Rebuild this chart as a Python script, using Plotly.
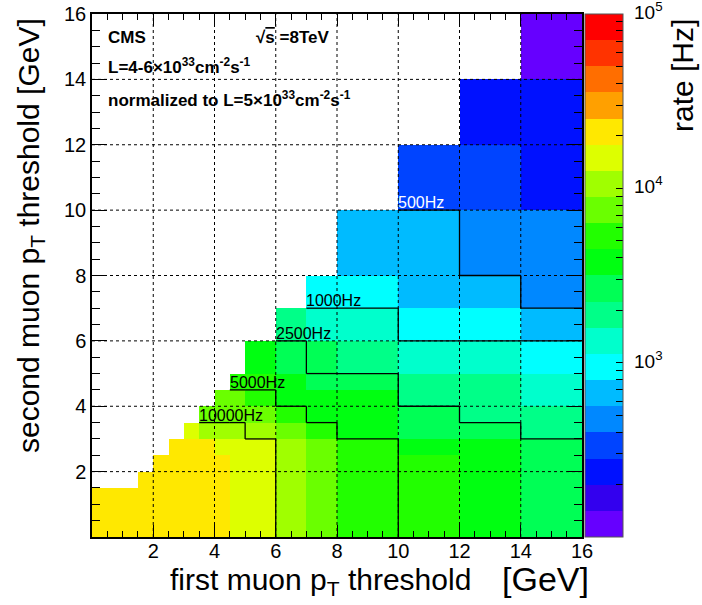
import numpy as np
import plotly.graph_objects as go

# muon pT threshold bin edges [GeV] (same scale on both axes)
pt_edges = [0, 1.5, 2, 2.5, 3, 3.5, 4, 4.5, 5, 6, 7, 8, 10, 12, 14, 16]

# di-muon rate [Hz]; row j = second muon bin, values start at first muon bin i = j
rate_row_0 = [24500, 24000, 23500, 23000, 22000, 21000, 19500, 17000, 15500, 9700, 8000, 5900, 4900, 3900, 2900]
rate_row_1 = [23500, 23000, 22500, 21500, 20500, 19000, 16800, 15000, 9600, 7900, 5800, 4850, 3850, 2850]
rate_row_2 = [22500, 22000, 21000, 20000, 18500, 16500, 14500, 9500, 7800, 5700, 4800, 3800, 2800]
rate_row_3 = [21500, 20000, 19000, 17000, 16000, 13500, 9000, 7200, 5400, 4300, 3500, 2700]
rate_row_4 = [16000, 11500, 11000, 10500, 9400, 7600, 5600, 4000, 2800, 2650, 2000]
rate_row_5 = [8500, 8000, 7800, 7000, 5600, 4300, 3700, 2700, 2100, 1800]
rate_row_6 = [7000, 6800, 5800, 4200, 3600, 3300, 2100, 1800, 1500]
rate_row_7 = [4800, 4700, 3700, 3100, 2700, 1900, 1600, 1300]
rate_row_8 = [3800, 2800, 2400, 2000, 1400, 1250, 1050]
rate_row_9 = [1900, 1400, 1250, 950, 900, 700]
rate_row_10 = [950, 880, 700, 620, 460]
rate_row_11 = [680, 620, 470, 440]
rate_row_12 = [340, 300, 250]
rate_row_13 = [240, 220]
rate_row_14 = [120]
rate_rows = [rate_row_0, rate_row_1, rate_row_2, rate_row_3, rate_row_4, rate_row_5, rate_row_6,
             rate_row_7, rate_row_8, rate_row_9, rate_row_10, rate_row_11, rate_row_12,
             rate_row_13, rate_row_14]

contour_levels = [10000, 5000, 2500, 1000, 500]
contour_labels = ["10000Hz", "5000Hz", "2500Hz", "1000Hz", "500Hz"]
contour_label_colors = ["black", "black", "black", "black", "white"]

# ROOT-like rainbow palette, 20 levels, bottom (1e2 Hz) to top (1e5 Hz)
palette = ["#6600FF", "#3300EE", "#0011FF", "#0044FF", "#0088FF", "#00BBFF", "#00FFFF",
           "#00FFCC", "#00FF88", "#00FF55", "#00FF11", "#22FF00", "#6AFF00", "#A0FF00",
           "#DDFF00", "#FFE800", "#FFA000", "#FF6E00", "#FF3300", "#FF0000"]
cb_decades = [3, 4, 5]

n = len(pt_edges) - 1
rate = [[None] * n for _ in range(n)]
for j, row in enumerate(rate_rows):
    for k, v in enumerate(row):
        rate[j][j + k] = v
z = [[None if v is None else float(np.log10(v)) for v in row] for row in rate]

zmin, zmax = 2, 5
colorscale = []
for k, c in enumerate(palette):
    colorscale.append([k / len(palette), c])
    colorscale.append([(k + 1) / len(palette), c])

# colorbar tick marks (log scale); labels are drawn as annotations
cb_vals = [d + np.log10(m) for d in range(zmin, zmax) for m in range(1, 10)][1:] + [zmax]

FONT = "Liberation Sans, Arial, Helvetica, sans-serif"
L, R, T, B = 92, 582, 14, 537


def px_x(p):
    return (p - L) / (R - L)


def px_y(p):
    return (B - p) / (B - T)


fig = go.Figure()
fig.add_trace(go.Heatmap(
    x=pt_edges, y=pt_edges, z=z, zmin=zmin, zmax=zmax, colorscale=colorscale,
    hoverongaps=False,
    colorbar=dict(
        x=px_x(585), xanchor="left", y=0, yanchor="bottom", len=1, lenmode="fraction",
        thickness=38, xpad=0, ypad=0, outlinewidth=1, outlinecolor="#555555",
        tickmode="array", tickvals=cb_vals, showticklabels=False,
        ticks="inside", ticklen=7, tickcolor="black", tickwidth=1,
    ),
))

# contour lines at cell boundaries
cx, cy = [], []
label_pos = []
for lev in contour_levels:
    for j in range(n):
        for i in range(n):
            v = rate[j][i]
            if v is None:
                continue
            if i + 1 < n and rate[j][i + 1] is not None and (v >= lev) != (rate[j][i + 1] >= lev):
                cx += [pt_edges[i + 1], pt_edges[i + 1], None]
                cy += [pt_edges[j], pt_edges[j + 1], None]
            if j + 1 < n and rate[j + 1][i] is not None and (v >= lev) != (rate[j + 1][i] >= lev):
                cx += [pt_edges[i], pt_edges[i + 1], None]
                cy += [pt_edges[j + 1], pt_edges[j + 1], None]
    k = next(d for d in range(n) if rate[d][d] < lev)
    label_pos.append(pt_edges[k])

fig.add_trace(go.Scatter(x=cx, y=cy, mode="lines", line=dict(color="black", width=1.3),
                         hoverinfo="skip", showlegend=False))

# dotted grid above the cells
grid_vals = [2, 4, 6, 8, 10, 12, 14]
shapes = []
for g in grid_vals:
    shapes.append(dict(type="line", xref="x", yref="y", x0=g, x1=g, y0=0, y1=16,
                       line=dict(color="black", width=1, dash="dot"), layer="above"))
    shapes.append(dict(type="line", xref="x", yref="y", x0=0, x1=16, y0=g, y1=g,
                       line=dict(color="black", width=1, dash="dot"), layer="above"))

annotations = []
for lab, pos, col in zip(contour_labels, label_pos, contour_label_colors):
    annotations.append(dict(x=pos, y=pos, xref="x", yref="y", text=lab, showarrow=False,
                            xanchor="left", yanchor="bottom", xshift=-2, yshift=-3,
                            font=dict(family=FONT, size=16, color=col)))

# colorbar labels
for d in cb_decades:
    annotations.append(dict(x=px_x(632), y=(d - zmin) / (zmax - zmin), xref="paper", yref="paper",
                            text="10<sup>%d</sup>" % d, showarrow=False, xanchor="left",
                            yanchor="middle", yshift=3,
                            font=dict(family=FONT, size=19, color="black")))

bold = dict(family=FONT, size=17, color="black")
annotations += [
    dict(x=px_x(106), y=px_y(37), text="<b>CMS</b>", xanchor="left"),
    dict(x=px_x(254), y=px_y(37), text="<b>√<span style='text-decoration:overline'>s</span> =8TeV</b>",
         xanchor="left"),
    dict(x=px_x(106), y=px_y(66), text="<b>L=4-6×10<sup>33</sup>cm<sup>-2</sup>s<sup>-1</sup></b>",
         xanchor="left"),
    dict(x=px_x(106), y=px_y(99),
         text="<b>normalized to L=5×10<sup>33</sup>cm<sup>-2</sup>s<sup>-1</sup></b>", xanchor="left"),
]
for a in annotations[-4:]:
    a.update(xref="paper", yref="paper", showarrow=False, yanchor="middle", font=bold)

title_font = dict(family=FONT, size=30, color="black")
annotations += [
    dict(x=px_x(320), y=px_y(581), text="first muon p<sub>T</sub> threshold"),
    dict(x=px_x(545), y=px_y(579), text="[GeV]", font=dict(family=FONT, size=34, color="black")),
    dict(x=px_x(30), y=px_y(236), text="second muon p<sub>T</sub> threshold [GeV]", textangle=-90),
    dict(x=px_x(683), y=px_y(76), text="rate [Hz]", textangle=-90),
]
for a in annotations[-4:]:
    a.update(xref="paper", yref="paper", showarrow=False, xanchor="center", yanchor="middle")
    a.setdefault("font", title_font)

axis_common = dict(
    range=[0, 16], showgrid=False, zeroline=False, showline=True, linecolor="black", linewidth=1.5,
    mirror="ticks", ticks="inside", tickcolor="black", tickwidth=1, layer="above traces",
    tickmode="array", tickvals=[2, 4, 6, 8, 10, 12, 14, 16], automargin=False,
    tickfont=dict(family=FONT, size=20, color="black"),
    minor=dict(ticks="inside", dtick=0.5, tick0=0, tickcolor="black", showgrid=False),
)

fig.update_layout(
    width=702, height=605,
    margin=dict(l=L, r=702 - R, t=T, b=605 - B),
    paper_bgcolor="white", plot_bgcolor="white",
    xaxis=dict(axis_common, ticklen=12, ticklabelstandoff=-5,
               minor=dict(axis_common["minor"], ticklen=6)),
    yaxis=dict(axis_common, ticklen=15, minor=dict(axis_common["minor"], ticklen=8)),
    shapes=shapes, annotations=annotations, showlegend=False,
)

fig.write_html("out.html", config={"displayModeBar": False},
               post_script="document.body.style.margin='0';")
